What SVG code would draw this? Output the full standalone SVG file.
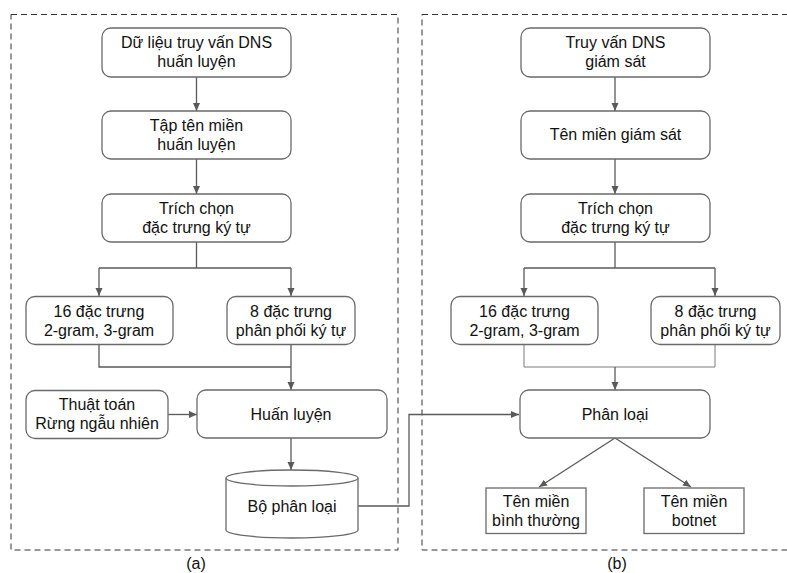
<svg xmlns="http://www.w3.org/2000/svg" width="787" height="573" viewBox="0 0 787 573">
<defs>
<marker id="ah" markerWidth="8" markerHeight="8" refX="8" refY="4" orient="auto" markerUnits="userSpaceOnUse">
<path d="M0,0.5 L8,4 L0,7.5 Z" fill="#5a5a5a"/>
</marker>
</defs>
<style>
.frame{fill:none;stroke:#333;stroke-width:1;stroke-dasharray:6,4}
.box{fill:#fff;stroke:#6a6a6a;stroke-width:1.3}
.t{font-family:"Liberation Sans",Arial,sans-serif;font-size:16px;fill:#111;text-anchor:middle}
.c{fill:none;stroke:#5a5a5a;stroke-width:1.3}
.cl{fill:none;stroke:#7a7a7a;stroke-width:1}
</style>
<rect width="787" height="573" fill="#fff"/>
<rect class="frame" x="11" y="14.5" width="387" height="535.5"/>
<rect class="frame" x="422" y="14.5" width="380" height="535.5"/>

<g id="connectors">
<line class="c" x1="196.5" y1="77" x2="196.5" y2="111" marker-end="url(#ah)"/>
<line class="c" x1="196.5" y1="159" x2="196.5" y2="194" marker-end="url(#ah)"/>
<polyline class="c" points="196.5,242 196.5,268"/>
<polyline class="c" points="99,268 291,268"/>
<line class="c" x1="99" y1="268" x2="99" y2="296" marker-end="url(#ah)"/>
<line class="c" x1="291" y1="268" x2="291" y2="296" marker-end="url(#ah)"/>
<polyline class="c" points="99,344 99,367 291,367"/>
<line class="c" x1="291" y1="344" x2="291" y2="390" marker-end="url(#ah)"/>
<line class="c" x1="168" y1="414.5" x2="197" y2="414.5" marker-end="url(#ah)"/>
<line class="c" x1="291" y1="438" x2="291" y2="470" marker-end="url(#ah)"/>
<polyline class="c" points="358,506 409,506 409,414.5 519,414.5" marker-end="url(#ah)"/>

<line class="c" x1="615" y1="77" x2="615" y2="111" marker-end="url(#ah)"/>
<line class="c" x1="615" y1="159" x2="615" y2="194" marker-end="url(#ah)"/>
<polyline class="c" points="615,242 615,268"/>
<polyline class="c" points="524,268 715,268"/>
<line class="c" x1="524" y1="268" x2="524" y2="296" marker-end="url(#ah)"/>
<line class="c" x1="715" y1="268" x2="715" y2="296" marker-end="url(#ah)"/>
<polyline class="cl" points="524,344 524,367 715,367 715,344"/>
<line class="c" x1="615" y1="367" x2="615" y2="390" marker-end="url(#ah)"/>
<line class="c" x1="615" y1="438" x2="539" y2="487" marker-end="url(#ah)"/>
<line class="c" x1="615" y1="438" x2="691" y2="487" marker-end="url(#ah)"/>
</g>

<g id="a1"><rect class="box" x="102" y="28" width="189" height="49" rx="9"/>
<text class="t" x="196.5" y="48">Dữ liệu truy vấn DNS</text><text class="t" x="196.5" y="67">huấn luyện</text></g>
<g id="a2"><rect class="box" x="102" y="111" width="189" height="48" rx="9"/>
<text class="t" x="196.5" y="131">Tập tên miền</text><text class="t" x="196.5" y="150">huấn luyện</text></g>
<g id="a3"><rect class="box" x="102" y="194" width="189" height="48" rx="9"/>
<text class="t" x="196.5" y="214">Trích chọn</text><text class="t" x="196.5" y="233">đặc trưng ký tự</text></g>
<g id="a4"><rect class="box" x="26" y="296.5" width="147" height="48" rx="9"/>
<text class="t" x="99" y="317">16 đặc trưng</text><text class="t" x="99" y="336">2-gram, 3-gram</text></g>
<g id="a5"><rect class="box" x="227" y="296.5" width="128" height="48" rx="9"/>
<text class="t" x="291" y="317">8 đặc trưng</text><text class="t" x="291" y="336">phân phối ký tự</text></g>
<g id="a6"><rect class="box" x="26" y="390.5" width="142" height="48" rx="9"/>
<text class="t" x="97" y="410">Thuật toán</text><text class="t" x="97" y="429">Rừng ngẫu nhiên</text></g>
<g id="a7"><rect class="box" x="197" y="390" width="190" height="48" rx="9"/>
<text class="t" x="291" y="420">Huấn luyện</text></g>
<g id="a8">
<path class="box" d="M226,478 A66,8 0 0 1 358,478 L358,530 A66,8 0 0 1 226,530 Z"/>
<path class="box" d="M226,478 A66,8 0 0 0 358,478" fill="none"/>
<text class="t" x="292" y="512">Bộ phân loại</text></g>

<g id="b1"><rect class="box" x="521" y="28" width="189" height="49" rx="9"/>
<text class="t" x="615.5" y="48">Truy vấn DNS</text><text class="t" x="615.5" y="67">giám sát</text></g>
<g id="b2"><rect class="box" x="521" y="111" width="189" height="48" rx="9"/>
<text class="t" x="615.5" y="140">Tên miền giám sát</text></g>
<g id="b3"><rect class="box" x="521" y="194" width="189" height="48" rx="9"/>
<text class="t" x="615.5" y="214">Trích chọn</text><text class="t" x="615.5" y="233">đặc trưng ký tự</text></g>
<g id="b4"><rect class="box" x="451" y="296.5" width="147" height="48" rx="9"/>
<text class="t" x="524.5" y="317">16 đặc trưng</text><text class="t" x="524.5" y="336">2-gram, 3-gram</text></g>
<g id="b5"><rect class="box" x="651" y="296.5" width="129" height="48" rx="9"/>
<text class="t" x="715.5" y="317">8 đặc trưng</text><text class="t" x="715.5" y="336">phân phối ký tự</text></g>
<g id="b6"><rect class="box" x="520" y="390" width="190" height="48" rx="9"/>
<text class="t" x="615" y="420">Phân loại</text></g>
<g id="b7"><rect class="box" x="486" y="488" width="100" height="45.5"/>
<text class="t" x="536" y="507">Tên miền</text><text class="t" x="536" y="526">bình thường</text></g>
<g id="b8"><rect class="box" x="644" y="488" width="100" height="45.5"/>
<text class="t" x="694" y="507">Tên miền</text><text class="t" x="694" y="526">botnet</text></g>

<text class="t" x="196" y="569">(a)</text>
<text class="t" x="617" y="569">(b)</text>
</svg>
